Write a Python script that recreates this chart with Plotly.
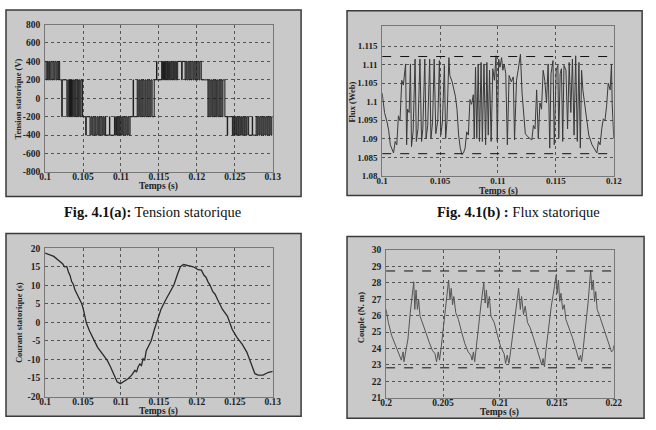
import plotly.graph_objects as go

# ---------------- (a) Tension statorique : PWM steps (time, level after switch)
volt_steps = [
    (0.1, 400),
    (0.10012, 200), (0.10025, 400), (0.10035, 200), (0.10048, 400), (0.10060, 200), (0.10075, 400),
    (0.10090, 200), (0.10105, 400), (0.10118, 200), (0.10130, 400), (0.10145, 200), (0.10158, 400),
    (0.10170, 200), (0.10180, 400), (0.10192, 200),
    (0.10220, -200), (0.10226, 200),
    (0.10287, -200), (0.10300, 200), (0.10312, -200), (0.10322, 200), (0.10335, -200), (0.10348, 200),
    (0.10360, -200), (0.10372, 200), (0.10385, -200), (0.10398, 200), (0.10410, -200), (0.10425, 200),
    (0.10438, -200), (0.10450, 200), (0.10462, -200), (0.10475, 200), (0.10494, -200),
    (0.10536, -400), (0.10542, -200),
    (0.10592, -400), (0.10605, -200), (0.10618, -400), (0.10630, -200), (0.10645, -400), (0.10658, -200),
    (0.10670, -400), (0.10685, -200), (0.10698, -400), (0.10710, -200), (0.10722, -400), (0.10736, -200),
    (0.10750, -400), (0.10762, -200), (0.10775, -400), (0.10788, -200), (0.10798, -400),
    (0.10848, -200), (0.10853, -400),
    (0.10914, -200), (0.10926, -400), (0.10940, -200), (0.10952, -400), (0.10965, -200), (0.10978, -400),
    (0.10990, -200), (0.11003, -400), (0.11016, -200), (0.11028, -400), (0.11040, -200), (0.11054, -400),
    (0.11066, -200), (0.11080, -400), (0.11092, -200), (0.11105, -400), (0.11120, -200),
    (0.11160, 200), (0.11166, -200),
    (0.11214, 200), (0.11226, -200), (0.11240, 200), (0.11252, -200), (0.11265, 200), (0.11278, -200),
    (0.11290, 200), (0.11304, -200), (0.11318, 200), (0.11330, -200), (0.11344, 200), (0.11356, -200),
    (0.11370, 200), (0.11383, -200), (0.11396, 200), (0.11410, -200), (0.11438, 200),
    (0.11468, 400), (0.11474, 200),
    (0.11536, 400), (0.11548, 200), (0.11560, 400), (0.11573, 200), (0.11586, 400), (0.11598, 200),
    (0.11612, 400), (0.11625, 200), (0.11638, 400), (0.11650, 200), (0.11663, 400), (0.11676, 200),
    (0.11690, 400), (0.11703, 200), (0.11716, 400), (0.11730, 200), (0.11747, 400),
    (0.11800, 200), (0.11806, 400),
    (0.11845, 200), (0.11858, 400), (0.11870, 200), (0.11884, 400), (0.11897, 200), (0.11910, 400),
    (0.11922, 200), (0.11936, 400), (0.11950, 200), (0.11962, 400), (0.11975, 200), (0.11988, 400),
    (0.12000, 200), (0.12014, 400), (0.12028, 200), (0.12040, 400), (0.12058, 200),
    (0.12146, -200), (0.12158, 200), (0.12172, -200), (0.12185, 200), (0.12198, -200), (0.12210, 200),
    (0.12224, -200), (0.12237, 200), (0.12250, -200), (0.12262, 200), (0.12276, -200), (0.12290, 200),
    (0.12303, -200), (0.12316, 200), (0.12330, -200), (0.12343, 200), (0.12369, -200),
    (0.12400, -400), (0.12406, -200),
    (0.12468, -400), (0.12480, -200), (0.12494, -400), (0.12506, -200), (0.12520, -400), (0.12532, -200),
    (0.12546, -400), (0.12558, -200), (0.12572, -400), (0.12585, -200), (0.12598, -400), (0.12610, -200),
    (0.12624, -400), (0.12636, -200), (0.12650, -400), (0.12662, -200), (0.12682, -400),
    (0.12730, -200), (0.12735, -400),
    (0.12781, -200), (0.12794, -400), (0.12806, -200), (0.12820, -400), (0.12832, -200), (0.12846, -400),
    (0.12858, -200), (0.12872, -400), (0.12884, -200), (0.12898, -400), (0.12910, -200), (0.12924, -400),
    (0.12936, -200), (0.12950, -400), (0.12962, -200), (0.12976, -400), (0.12988, -200), (0.13, -200),
]
volt_t = [p[0] for p in volt_steps]
volt_v = [p[1] for p in volt_steps]

# ---------------- (b) Flux statorique
flux_t = [0.1, 0.1002, 0.10042, 0.10056, 0.1007, 0.10084, 0.10098, 0.10112, 0.10126, 0.1014, 0.10154,
          0.10169, 0.10183, 0.10202, 0.10211, 0.10219, 0.10233, 0.10244, 0.10253, 0.10267, 0.10284,
          0.10295, 0.10309, 0.10326, 0.1034, 0.10351, 0.10368, 0.10379, 0.10393, 0.1041, 0.10421,
          0.10435, 0.10449, 0.10463, 0.1048, 0.10494, 0.10506, 0.1052, 0.10537, 0.10548, 0.10559,
          0.10576, 0.10584, 0.10604, 0.10632, 0.10646, 0.1066, 0.10674, 0.10688, 0.10702, 0.10716,
          0.1073, 0.10744, 0.10758, 0.10772, 0.10787, 0.10795, 0.10806, 0.10817, 0.10829, 0.1084,
          0.10854, 0.10865, 0.10879, 0.10893, 0.10904, 0.10916, 0.10927, 0.10941, 0.10955, 0.10969,
          0.10983, 0.10994, 0.11006, 0.11017, 0.11031, 0.11042, 0.11053, 0.11067, 0.11081, 0.11096,
          0.11115, 0.11132, 0.11143, 0.1116, 0.11174, 0.11194, 0.11208, 0.11222, 0.11236, 0.11256,
          0.11278, 0.11292, 0.11306, 0.1132, 0.11334, 0.11348, 0.11362, 0.11376, 0.1139, 0.11404,
          0.11419, 0.11433, 0.11447, 0.11458, 0.11475, 0.11486, 0.11503, 0.11517, 0.11525, 0.11537,
          0.11548, 0.11559, 0.1157, 0.11587, 0.11601, 0.11615, 0.11629, 0.11643, 0.11657, 0.11671,
          0.11685, 0.11699, 0.11711, 0.11722, 0.11733, 0.11756, 0.11784, 0.11812, 0.1184, 0.11854,
          0.11868, 0.11882, 0.11896, 0.1191, 0.11924, 0.11938, 0.11952, 0.11969, 0.1198, 0.11986, 0.12]
flux_v = [1.1023, 1.0971, 1.0945, 1.0923, 1.0884, 1.0875, 1.0862, 1.0893, 1.0884, 1.0962, 1.0949,
          1.1058, 1.1045, 1.1102, 1.0884, 1.0980, 1.0971, 1.1102, 1.0879, 1.0919, 1.1115,
          1.0893, 1.0927, 1.1115, 1.0893, 1.0927, 1.1115, 1.0901, 1.0936, 1.1115, 1.0901,
          1.0945, 1.1115, 1.0914, 1.0949, 1.1111, 1.0910, 1.0945, 1.1098, 1.0901, 1.0945,
          1.1119, 1.1071, 1.1054, 1.1015, 1.0980, 1.0910, 1.0875, 1.0858, 1.0862, 1.0875,
          1.0919, 1.0910, 1.1006, 1.0993, 1.1019, 1.0901, 1.1093, 1.0901, 1.1102, 1.0893,
          1.1106, 1.0893, 1.1102, 1.0884, 1.1106, 1.0910, 1.1085, 1.0893, 1.1089, 1.1058,
          1.1124, 1.0893, 1.1115, 1.1093, 1.1119, 1.1085, 1.1102, 1.1076, 1.0884, 1.1071,
          1.1054, 1.1067, 1.0897, 1.1058, 1.1085, 1.1128, 1.1023, 1.0971, 1.0914, 1.0906,
          1.0901, 1.0897, 1.0936, 1.0927, 1.1032, 1.0901, 1.0997, 1.0980, 1.1085, 1.1058,
          1.0997, 1.1102, 1.0875, 1.1076, 1.1111, 1.0884, 1.1085, 1.1098, 1.0901, 1.1076,
          1.1089, 1.0893, 1.1098, 1.1085, 1.0927, 1.1106, 1.0971, 1.1115, 1.0910, 1.1124,
          1.0893, 1.1106, 1.0875, 1.1085, 1.1032, 1.0971, 1.0910, 1.0884, 1.0871, 1.0862,
          1.0893, 1.0884, 1.0927, 1.0954, 1.0949, 1.0989, 1.1050, 1.1032, 1.1102, 1.0997, 1.0901]
flux_limits = [1.1122, 1.0860]

# ---------------- (c) Courant statorique (with visible switching ripple)
cur_t = [0.1, 0.10051, 0.10115, 0.10179, 0.10231, 0.10256, 0.10286, 0.10308, 0.10330, 0.1035, 0.10372,
         0.10393, 0.10415, 0.10457, 0.10480, 0.105, 0.10543, 0.10586, 0.10628, 0.10692, 0.10756,
         0.10821, 0.10863, 0.10906, 0.10949, 0.10992, 0.11034, 0.11098, 0.11141, 0.11184, 0.11205,
         0.11225, 0.11248, 0.11270, 0.11291, 0.11312, 0.11333, 0.11397, 0.1144, 0.11483, 0.11526,
         0.1159, 0.11654, 0.11697, 0.1174, 0.11782, 0.11825, 0.11889, 0.11953, 0.12017, 0.1206,
         0.12094, 0.12120, 0.12145, 0.12175, 0.1221, 0.12240, 0.12274, 0.12338, 0.12402, 0.12466,
         0.1253, 0.12594, 0.12658, 0.12723, 0.12765, 0.12808, 0.12872, 0.12936, 0.13]
cur_v = [18.7, 18.3, 17.8, 16.7, 15.8, 15.0, 15.1, 13.6, 12.6, 11.0, 10.3,
         8.8, 7.9, 6.1, 5.2, 3.9, -0.1, -2.3, -4.1, -6.7, -8.5,
         -10.3, -12.0, -13.8, -16.0, -16.5, -16.0, -15.1, -14.2, -12.9, -13.4,
         -12.0, -11.2, -11.6, -9.8, -10.2, -7.6, -5.0, -1.9, 0.8, 3.5,
         6.1, 8.3, 10.1, 12.7, 15.0, 15.6, 15.4, 15.0, 14.2, 14.1,
         12.7, 12.2, 11.0, 10.0, 8.3, 7.6, 6.1, 3.5, 1.7, -1.9,
         -4.1, -5.8, -8.0, -11.6, -13.8, -14.2, -14.2, -13.5, -13.2]

# ---------------- (d) Couple
torque_t = [0.2, 0.2002, 0.20049, 0.20077, 0.20106, 0.2012, 0.20134, 0.20149, 0.20157, 0.20172,
            0.20192, 0.20212, 0.20229, 0.20243, 0.20252, 0.20263, 0.20275, 0.20286, 0.20298, 0.2032,
            0.20349, 0.20378, 0.20406, 0.20429, 0.20443, 0.20458, 0.20469, 0.20486, 0.20506, 0.20526,
            0.20549, 0.20561, 0.20572, 0.20584, 0.20595, 0.20612, 0.20635, 0.20664, 0.20692, 0.20721,
            0.20744, 0.20755, 0.20767, 0.20778, 0.20793, 0.20813, 0.20835, 0.20858, 0.2087, 0.20881,
            0.20893, 0.20907, 0.20921, 0.2095, 0.20979, 0.21007, 0.21036, 0.2105, 0.21064, 0.21079,
            0.21093, 0.21116, 0.21139, 0.21164, 0.21179, 0.2119, 0.21207, 0.21222, 0.21242, 0.21265,
            0.21293, 0.21322, 0.21345, 0.21356, 0.21368, 0.21379, 0.21391, 0.21402, 0.21425, 0.21451,
            0.21479, 0.21494, 0.21502, 0.21514, 0.21525, 0.21536, 0.21551, 0.21565, 0.21579, 0.21608,
            0.21636, 0.21665, 0.21679, 0.21694, 0.21708, 0.21717, 0.21728, 0.21751, 0.21774, 0.21797,
            0.21808, 0.2182, 0.21831, 0.21842, 0.21854, 0.21871, 0.21894, 0.21923, 0.21951, 0.2198,
            0.21994, 0.22]
torque_v = [26.38, 25.58, 24.78, 24.29, 23.79, 23.59, 23.29, 23.79, 23.19, 23.79,
            24.58, 26.18, 27.17, 28.07, 26.38, 27.57, 26.38, 26.97, 25.98, 25.58,
            24.98, 24.39, 23.89, 23.69, 23.19, 23.79, 23.29, 24.19, 25.58, 26.97,
            28.17, 26.97, 27.67, 26.67, 27.17, 26.18, 25.78, 24.98, 24.29, 23.79,
            23.59, 23.29, 23.79, 23.19, 23.99, 25.38, 26.77, 28.01, 26.77, 27.57,
            26.48, 27.17, 25.98, 25.58, 24.78, 24.09, 23.69, 23.09, 23.59, 23.09,
            23.79, 24.98, 26.38, 27.67, 26.38, 27.17, 26.08, 26.58, 25.58, 25.28,
            24.68, 23.99, 23.59, 23.19, 22.99, 23.39, 22.89, 23.79, 25.18, 26.58,
            27.77, 28.47, 27.37, 28.17, 26.87, 27.37, 26.38, 26.67, 25.78, 25.28,
            24.68, 23.99, 23.69, 23.29, 23.59, 23.19, 23.79, 25.18, 26.77, 28.77,
            27.57, 28.17, 26.87, 27.47, 26.38, 26.08, 25.58, 24.98, 24.39, 23.79,
            23.89, 24.19]
torque_limits = [28.73, 22.82]

# ---------------- ticks / labels
x_ticks_ac = [0.1, 0.105, 0.11, 0.115, 0.12, 0.125, 0.13]
x_ticks_b = [0.1, 0.105, 0.11, 0.115, 0.12]
x_ticks_d = [0.2, 0.205, 0.21, 0.215, 0.22]
y_ticks_a = [-800, -600, -400, -200, 0, 200, 400, 600, 800]
y_ticks_b = [1.08, 1.085, 1.09, 1.095, 1.1, 1.105, 1.11, 1.115]
y_ticks_c = [-20, -15, -10, -5, 0, 5, 10, 15, 20]
y_ticks_d = [21, 22, 23, 24, 25, 26, 27, 28, 29, 30]
captions = ["<b>Fig. 4.1(a):</b> Tension statorique", "<b>Fig. 4.1(b) :</b> Flux statorique"]
y_titles = ["Tension statorique (V)", "Flux (Web)", "Courant statorique (s)", "Couple (N. m)"]
x_title = "Temps (s)"

W, H = 656, 430
SERIF = "Liberation Serif, Times New Roman, Times, serif"


def px(x):
    return x / W


def py(y):
    return 1 - y / H


fig = go.Figure()
fig.add_trace(go.Scatter(x=volt_t, y=volt_v, mode="lines", line=dict(color="#1a1a1a", width=1, shape="hv"),
                         xaxis="x", yaxis="y"))
fig.add_trace(go.Scatter(x=flux_t, y=flux_v, mode="lines", line=dict(color="#3a3a3a", width=1),
                         xaxis="x2", yaxis="y2"))
for lv in flux_limits:
    fig.add_trace(go.Scatter(x=[x_ticks_b[0], x_ticks_b[-1]], y=[lv, lv], mode="lines",
                             line=dict(color="#111", width=1, dash="dash"), xaxis="x2", yaxis="y2"))
fig.add_trace(go.Scatter(x=cur_t, y=cur_v, mode="lines", line=dict(color="#2a2a2a", width=1.3),
                         xaxis="x3", yaxis="y3"))
fig.add_trace(go.Scatter(x=torque_t, y=torque_v, mode="lines", line=dict(color="#555", width=1),
                         xaxis="x4", yaxis="y4"))
for lv in torque_limits:
    fig.add_trace(go.Scatter(x=[x_ticks_d[0], x_ticks_d[-1]], y=[lv, lv], mode="lines",
                             line=dict(color="#111", width=1, dash="dash"), xaxis="x4", yaxis="y4"))


def ax(domain, rng, ticks, anchor, fs, standoff):
    return dict(domain=domain, range=rng, tickvals=ticks, ticktext=[f"{t:g}" for t in ticks],
                anchor=anchor, showline=True, mirror=True, linecolor="#777", linewidth=1,
                showgrid=True, gridcolor="#555", griddash="dot", gridwidth=1, zeroline=False,
                ticks="", ticklen=0, ticklabelstandoff=standoff,
                tickfont=dict(family=SERIF, size=fs, color="#222", weight="bold"), fixedrange=True)


# plot areas in pixels: (left, top, right, bottom)
areas = [(40, 20, 273, 171), (385, 22, 622, 175), (40, 249, 273, 401), (389, 251, 622, 402)]
ranges = [([0.1, 0.13], [-800, 800], x_ticks_ac, y_ticks_a),
          ([0.1, 0.12], [1.08, 1.1203], x_ticks_b, y_ticks_b),
          ([0.1, 0.13], [-20, 20], x_ticks_ac, y_ticks_c),
          ([0.2, 0.22], [21, 30], x_ticks_d, y_ticks_d)]
layout = dict(width=W, height=H, margin=dict(l=0, r=0, t=0, b=0), paper_bgcolor="white",
              plot_bgcolor="white", showlegend=False)
for i, ((l, t, r, b), (xr, yr, xt, yt)) in enumerate(zip(areas, ranges)):
    s = "" if i == 0 else str(i + 1)
    fs = 9 if i == 1 else 9.5
    layout["xaxis" + s] = ax([px(l), px(r)], xr, xt, "y" + s, fs, -4)
    layout["yaxis" + s] = ax([py(b), py(t)], yr, yt, "x" + s, fs, 2)
fig.update_layout(**layout)

# gray frames
frames = [(0, 5, 302, 196), (349, 6, 651, 195), (0, 234, 302, 421), (349, 237, 653, 423)]
for (x0, y0, x1, y1) in frames:
    fig.add_shape(type="rect", xref="paper", yref="paper", x0=px(x0), x1=px(x1), y0=py(y1), y1=py(y0),
                  fillcolor="#c9c9c9", line=dict(color="#3a3a3a", width=1.5), layer="below")

# axis titles
xt_pos = [(156, 186), (504, 191), (156, 416), (505, 417)]
yt_pos = [(12, 96), (354, 99), (14, 325), (363, 320)]
for (x, y) in xt_pos:
    fig.add_annotation(x=px(x), y=py(y), xref="paper", yref="paper", text=x_title, showarrow=False,
                       font=dict(family=SERIF, size=9.5, color="#222", weight="bold"),
                       xanchor="center", yanchor="middle")
for (x, y), txt in zip(yt_pos, y_titles):
    fig.add_annotation(x=px(x), y=py(y), xref="paper", yref="paper", text=txt, showarrow=False,
                       textangle=-90, font=dict(family=SERIF, size=8.5, color="#222", weight="bold"),
                       xanchor="center", yanchor="middle")

# captions
cap_pos = [(243, 212), (610, 212)]
for (x, y), txt in zip(cap_pos, captions):
    fig.add_annotation(x=px(x), y=py(y), xref="paper", yref="paper", text=txt, showarrow=False,
                       font=dict(family=SERIF, size=14.5, color="#111"),
                       xanchor="right", yanchor="middle")

fig.write_html("out.html")
